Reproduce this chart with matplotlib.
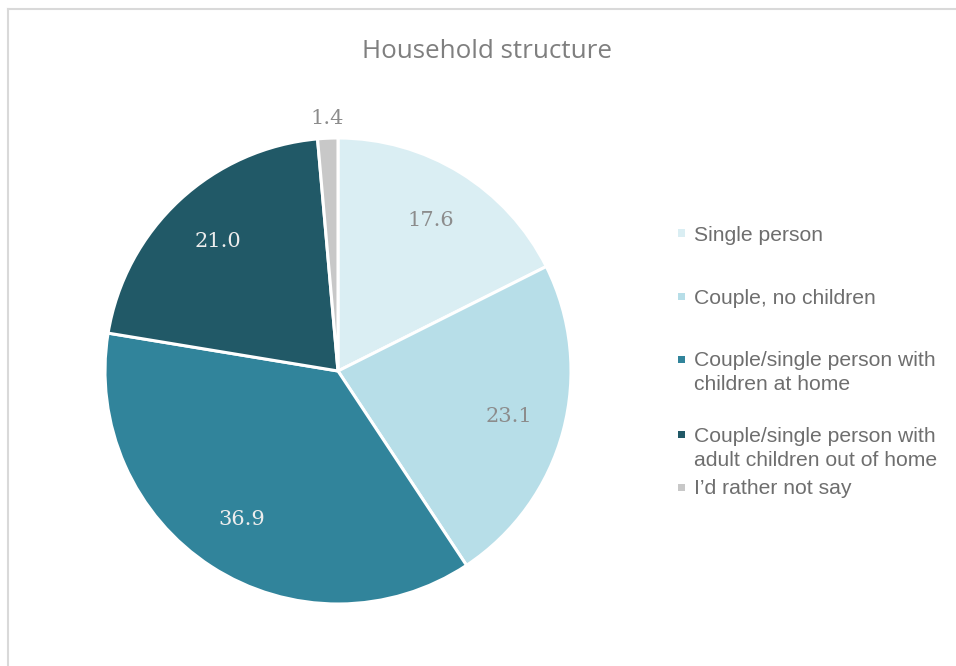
import matplotlib
matplotlib.use('Agg')
import matplotlib.pyplot as plt
from matplotlib.lines import Line2D

# household structure shares, %
categories = ['Single person', 'Couple, no children',
              'Couple/single person with\nchildren at home',
              'Couple/single person with\nadult children out of home',
              'I\u2019d rather not say']
values = [17.6, 23.1, 36.9, 21.0, 1.4]
colors = ['#DAEEF3', '#B7DEE8', '#31849B', '#215967', '#C8C8C8']
label_colors = ['#8C8C8C', '#8C8C8C', '#EDEDED', '#EDEDED', '#8C8C8C']

W, H = 956, 666
fig = plt.figure(figsize=(W / 100, H / 100), dpi=100)
fig.patch.set_facecolor('white')

# thin frame along the top and left edge
fig.add_artist(Line2D([7.5 / W, 7.5 / W], [0, 1 - 8.5 / H], transform=fig.transFigure,
                      color='#D9D9D9', lw=1.5))
fig.add_artist(Line2D([7.5 / W, 1], [1 - 8.5 / H, 1 - 8.5 / H], transform=fig.transFigure,
                      color='#D9D9D9', lw=1.5))

fig.text(487 / W, 1 - 51 / H, 'Household structure', ha='center', va='center',
         fontsize=18.7, color='#7F7F7F', family='Open Sans')

# pie centre ~ (338, 371) px, radius ~ 233 px
cx, cy, r = 338, 371, 233
ax = fig.add_axes([(cx - r) / W, 1 - (cy + r) / H, 2 * r / W, 2 * r / H])
wedges, texts = ax.pie(values, colors=colors, startangle=90, counterclock=False,
                       labels=[f'{v:.1f}' for v in values], labeldistance=0.76,
                       wedgeprops=dict(edgecolor='white', linewidth=2.2),
                       textprops=dict(fontsize=15, family='DejaVu Serif'))
for t, c in zip(texts, label_colors):
    t.set_color(c)
    t.set_ha('center')
    t.set_va('center')
# the small slice gets its label outside the pie
x, y = texts[-1].get_position()
texts[-1].set_position((x * 1.43, y * 1.43))
ax.set_aspect('equal')
ax.set_xlim(-1, 1)
ax.set_ylim(-1, 1)

# legend, marker level with the first line of each entry
entry_y = [233, 296, 359, 434, 487]
for lab, col, yy in zip(categories, colors, entry_y):
    fig.add_artist(plt.Rectangle(((681 - 3.5) / W, 1 - (yy + 3.5) / H), 7 / W, 7 / H,
                                 transform=fig.transFigure, facecolor=col, edgecolor='none'))
    for i, line in enumerate(lab.split('\n')):
        fig.text(694 / W, 1 - (yy + 7.5 + 24 * i) / H, line, ha='left', va='baseline',
                 fontsize=15.2, color='#6E6E6E', family='Liberation Sans')

fig.savefig('out.png', dpi=100, facecolor='white')
